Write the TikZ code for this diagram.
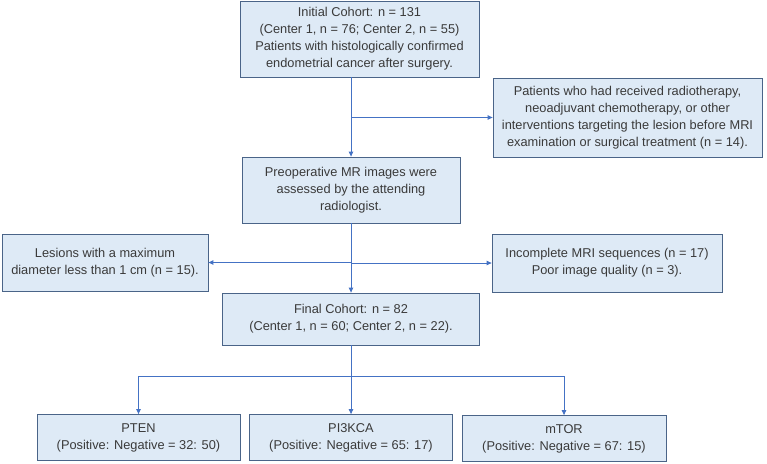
\documentclass[tikz,border=0pt]{standalone}
\usepackage{fontspec}
\setmainfont{Liberation Sans}
\usepackage{xcolor}
\usetikzlibrary{arrows.meta, positioning}
\definecolor{BoxFill}{HTML}{DEEAF6}
\definecolor{BoxLine}{HTML}{4A6488}
\definecolor{ArrowBlue}{HTML}{4472C4}
\definecolor{TextGray}{HTML}{3A3A3A}

\begin{document}
\begin{tikzpicture}[
        x=1pt, y=-1pt,
        box/.style={
          rectangle, draw=BoxLine, fill=BoxFill,
          line width=0.8pt, align=center, inner sep=0pt,
          font=\fontsize{12.8}{17}\selectfont\color{TextGray}
        },
        arr/.style={-{Triangle[length=5pt, width=4.5pt]}, ArrowBlue, line width=0.9pt}
      ]
      \useasboundingbox (0,0) rectangle (767,463);

      \node[box, minimum width=239pt, minimum height=76pt] (init) at (359.5,39)
        {Initial Cohort: n = 131\\(Center 1, n = 76; Center 2, n = 55)\\Patients with histologically confirmed\\endometrial cancer after surgery.};
      \node[box, minimum width=269pt, minimum height=79pt] (excl) at (627.5,117.5)
        {Patients who had received radiotherapy,\\neoadjuvant chemotherapy, or other\\interventions targeting the lesion before MRI\\examination or surgical treatment (n = 14).};
      \node[box, minimum width=218pt, minimum height=66pt] (mr) at (351,190)
        {Preoperative MR images were\\assessed by the attending\\radiologist.};
      \node[box, minimum width=206pt, minimum height=57pt] (small) at (105,262.5)
        {Lesions with a maximum\\diameter less than 1 cm (n = 15).};
      \node[box, minimum width=230pt, minimum height=58pt] (poor) at (607,263)
        {Incomplete MRI sequences (n = 17)\\Poor image quality (n = 3).};
      \node[box, minimum width=257pt, minimum height=52pt] (final) at (351,319)
        {Final Cohort: n = 82\\(Center 1, n = 60; Center 2, n = 22).};
      \node[box, minimum width=203pt, minimum height=46pt] (pten) at (138.5,437.5)
        {PTEN\\(Positive: Negative = 32: 50)};
      \node[box, minimum width=203pt, minimum height=46pt] (pik)  at (351,437.5)
        {PI3KCA\\(Positive: Negative = 65: 17)};
      \node[box, minimum width=204pt, minimum height=46pt] (mtor) at (564,438.5)
        {mTOR\\(Positive: Negative = 67: 15)};

      % main line and side branches
      \draw[arr] (init.south -| mr) -- (mr.north);
      \draw[arr] (mr.north |- excl.west) -- (excl.west);
      \draw[arr] (mr.south) -- (final.north);
      \draw[arr] (mr.south |- small.east) -- (small.east);
      \draw[arr] (mr.south |- poor.west) -- (poor.west);

      % split into the three markers
      \coordinate (split) at (351,376);
      \draw[arr] (final.south) -- (pik.north);
      \draw[arr] (split) -| (pten.north);
      \draw[arr] (split) -| (mtor.north);
    \end{tikzpicture}
\end{document}
